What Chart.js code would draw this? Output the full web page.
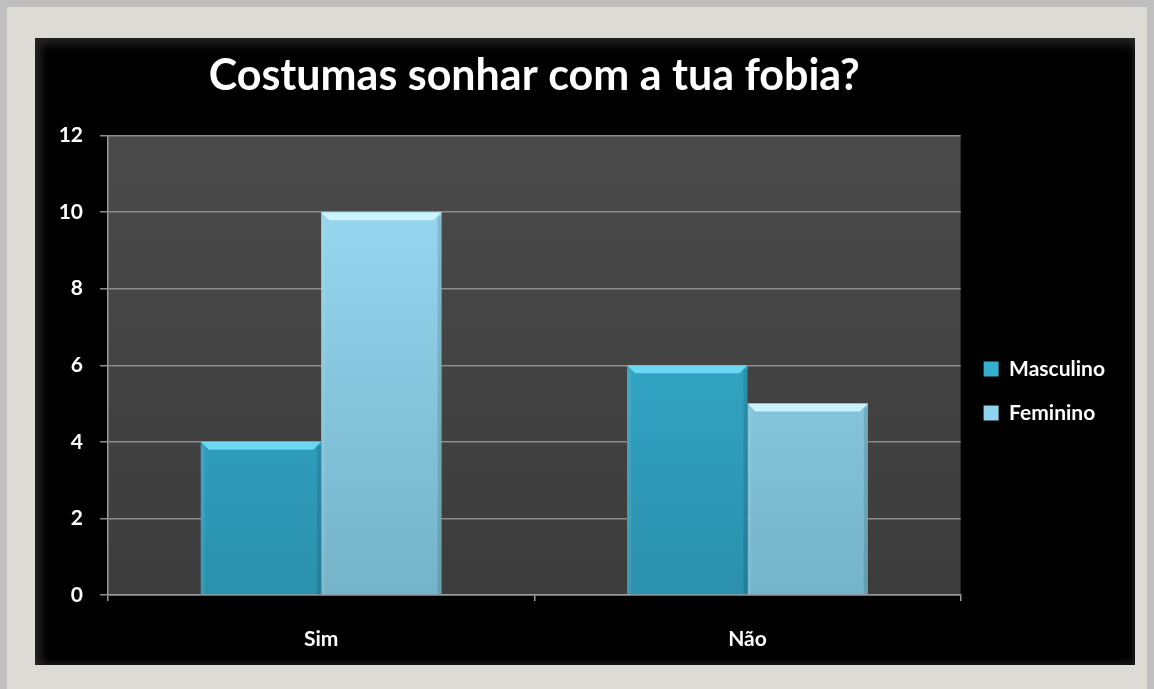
<!DOCTYPE html>
<html>
<head>
<meta charset="utf-8">
<script src="https://cdn.jsdelivr.net/npm/chart.js@4"></script>
<style>
  html, body { margin: 0; padding: 0; }
  body {
    width: 1154px; height: 689px; overflow: hidden; position: relative;
    background: #bfbfbf;
  }
  #frame {
    position: absolute; left: 7px; top: 7px; width: 1140px; height: 690px;
    background: #dcdbd5;
  }
  #box {
    position: absolute; left: 35px; top: 38px; width: 1100px; height: 627px;
    background: #000;
    box-shadow: inset 6px 6px 10px rgba(60,60,60,0.6), inset -3px -3px 6px rgba(40,40,40,0.6);
  }
  canvas { display: block; }
</style>
</head>
<body>
<div id="frame"></div>
<div id="box"><canvas id="chart" width="1100" height="627"></canvas></div>
<script>
const categories = ['Sim', 'Não'];
const masculino = [4, 6];
const feminino = [10, 5];
const yTicks = [0, 2, 4, 6, 8, 10, 12];

const FONT = "Lato, 'Open Sans', sans-serif";

function barGradient(ctx, top, bottom) {
  const area = ctx.chart.chartArea;
  if (!area) return top;
  const g = ctx.chart.ctx.createLinearGradient(0, area.top, 0, area.bottom);
  g.addColorStop(0, top);
  g.addColorStop(1, bottom);
  return g;
}

// gray plot background
const plotBg = {
  id: 'plotBg',
  beforeDraw(chart) {
    const { ctx, chartArea: a } = chart;
    const g = ctx.createLinearGradient(0, a.top, 0, a.bottom);
    g.addColorStop(0, '#4a4a4a');
    g.addColorStop(1, '#3c3c3c');
    ctx.save();
    ctx.fillStyle = g;
    ctx.fillRect(a.left, a.top, a.right - a.left, a.bottom - a.top);
    ctx.restore();
  }
};

// light bevel on top of each bar
const bevel = {
  id: 'bevel',
  afterDatasetsDraw(chart) {
    const ctx = chart.ctx;
    chart.data.datasets.forEach((ds, i) => {
      chart.getDatasetMeta(i).data.forEach(bar => {
        const l = bar.x - bar.width / 2, r = bar.x + bar.width / 2, t = bar.y, h = 8;
        ctx.save();
        ctx.fillStyle = i === 0 ? 'rgba(120,225,250,0.85)' : 'rgba(210,247,255,0.9)';
        ctx.beginPath();
        ctx.moveTo(l, t); ctx.lineTo(r, t); ctx.lineTo(r - h, t + h); ctx.lineTo(l + h, t + h);
        ctx.closePath(); ctx.fill();
        ctx.fillStyle = 'rgba(0,0,0,0.12)';
        ctx.fillRect(r - 4, t + 4, 4, bar.base - t - 4);
        ctx.fillStyle = 'rgba(255,255,255,0.08)';
        ctx.fillRect(l, t + 4, 4, bar.base - t - 4);
        ctx.restore();
      });
    });
  }
};

new Chart(document.getElementById('chart'), {
  type: 'bar',
  data: {
    labels: categories,
    datasets: [
      {
        label: 'Masculino',
        data: masculino,
        backgroundColor: c => barGradient(c, '#3bb6d8', '#2a90ad'),
        borderWidth: 0
      },
      {
        label: 'Feminino',
        data: feminino,
        backgroundColor: c => barGradient(c, '#9cdcf5', '#74b3c9'),
        borderWidth: 0
      }
    ]
  },
  options: {
    responsive: false,
    animation: false,
    barPercentage: 1,
    categoryPercentage: 0.565,
    layout: { padding: { left: 0, right: 20, top: 0, bottom: 0 } },
    plugins: {
      title: {
        display: true,
        fullSize: false,
        text: 'Costumas sonhar com a tua fobia?',
        color: '#ffffff',
        font: { family: FONT, size: 43, weight: 'bold', lineHeight: 1.2 },
        padding: { top: 12, bottom: 34 }
      },
      legend: {
        position: 'right',
        fullSize: false,
        align: 'start',
        title: { display: true, text: '', font: { size: 10, lineHeight: 1 }, padding: { top: 190, bottom: 0 } },
        labels: {
          color: '#ffffff',
          font: { family: FONT, size: 21, weight: 'bold' },
          boxWidth: 15,
          boxHeight: 15,
          padding: 23,
          generateLabels(chart) {
            const fills = ['#35aed0', '#8fd3ee'];
            return chart.data.datasets.map((ds, i) => ({
              text: ds.label, fillStyle: fills[i], strokeStyle: fills[i],
              lineWidth: 0, fontColor: '#ffffff', datasetIndex: i, hidden: false
            }));
          }
        }
      },
      tooltip: { enabled: false }
    },
    scales: {
      x: {
        afterFit(scale) { scale.height = 70; },
        grid: {
          display: true, drawOnChartArea: false, drawTicks: true,
          tickLength: 6, color: '#9a9a9a', lineWidth: 1.5
        },
        border: { display: true, color: '#9a9a9a', width: 1.5 },
        ticks: {
          color: '#ffffff', padding: 26,
          font: { family: FONT, size: 21, weight: 'bold' }
        }
      },
      y: {
        min: 0, max: 12,
        afterFit(scale) { scale.width = 73; },
        afterBuildTicks(scale) { scale.ticks = yTicks.map(v => ({ value: v })); },
        grid: { color: '#8c8c8c', lineWidth: 1.5, tickLength: 8 },
        border: { display: true, color: '#9a9a9a', width: 1.5 },
        ticks: {
          color: '#ffffff', padding: 17,
          font: { family: FONT, size: 21, weight: 'bold' }
        }
      }
    }
  },
  plugins: [plotBg, bevel]
});
</script>
</body>
</html>
